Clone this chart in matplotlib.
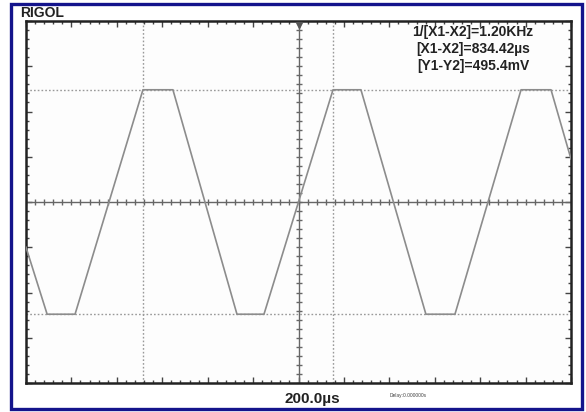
import numpy as np
import matplotlib.pyplot as plt
from matplotlib.patches import Rectangle

plt.rcParams['font.family'] = ['Liberation Sans', 'DejaVu Sans']

# Trace: time in us, voltage in mV
t_us = [-1200, -1107, -984, -685, -553, -271, -152, 152, 275, 561, 689, 980, 1112, 1200]
v_mv = [-100, -248, -248, 248, 248, -248, -248, 248, 248, -248, -248, 248, 248, 95]

# Cursor positions
x_cursors = [-685, 152]
y_cursors = [247.7, -247.7]

readout = ['1/[X1-X2]=1.20KHz', '[X1-X2]=834.42\u00b5s', '[Y1-Y2]=495.4mV']
timebase = '200.0\u00b5s'
delay = 'Delay:0.000000s'

W, H = 586, 412
fig = plt.figure(figsize=(W / 100, H / 100), dpi=100)
fig.patch.set_facecolor('white')

# blue outer frame
fig.patches.append(Rectangle((11 / W, 3 / H), 571 / W, 405 / H, transform=fig.transFigure,
                             fill=False, edgecolor='#14148c', linewidth=2.4))

ax = fig.add_axes([26 / W, 29 / H, 545 / W, 362 / H])
ax.set_facecolor('#fdfdfd')
ax.set_xlim(-1200, 1200)
ax.set_ylim(-400, 400)

# centre cross with small ticks
ax.axhline(0, color='#666666', lw=1.0, zorder=2)
ax.axvline(0, color='#666666', lw=1.0, zorder=2)
tx = np.arange(-1200, 1201, 40)
ty = np.arange(-400, 401, 20)
ax.plot(tx, np.zeros_like(tx), ls='', marker='|', ms=5, mew=1.0, color='#666666', zorder=2)
ax.plot(np.zeros_like(ty), ty, ls='', marker='_', ms=5, mew=1.0, color='#666666', zorder=2)

# cursors
for xc in x_cursors:
    ax.axvline(xc, color='#999999', lw=1.0, ls=(0, (1.2, 1.5)), zorder=1)
for yc in y_cursors:
    ax.axhline(yc, color='#999999', lw=1.0, ls=(0, (1.2, 1.5)), zorder=1)

# trace
ax.plot(t_us, v_mv, color='#8c8c8c', lw=1.2, zorder=3)

# trigger marker
ax.plot([0], [392], marker='v', ms=4, color='#555555', zorder=4, clip_on=False)

# border ticks
ax.set_xticks(np.arange(-1200, 1201, 200))
ax.set_yticks(np.arange(-400, 401, 100))
ax.set_xticks(tx, minor=True)
ax.set_yticks(ty, minor=True)
ax.tick_params(which='both', direction='in', top=True, right=True,
               labelbottom=False, labelleft=False, color='#444444')
ax.tick_params(which='major', length=4, width=1)
ax.tick_params(which='minor', length=2.5, width=1)
for s in ax.spines.values():
    s.set_linewidth(1.8)
    s.set_color('#222222')

# texts
fig.text(20 / W, 1 - 13 / H, 'RIGOL', ha='left', va='center', fontsize=10,
         fontweight='bold', color='#222222')
for i, line in enumerate(readout):
    fig.text(473 / W, 1 - (32 + 17 * i) / H, line, ha='center', va='center',
             fontsize=10, fontweight='bold', color='#222222')
fig.text(312 / W, 1 - 399 / H, timebase, ha='center', va='center', fontsize=11,
         fontweight='bold', color='#222222')
fig.text(390 / W, 1 - 395 / H, delay, ha='left', va='center', fontsize=3.5,
         color='#444444')

fig.savefig('out.png', dpi=100)
